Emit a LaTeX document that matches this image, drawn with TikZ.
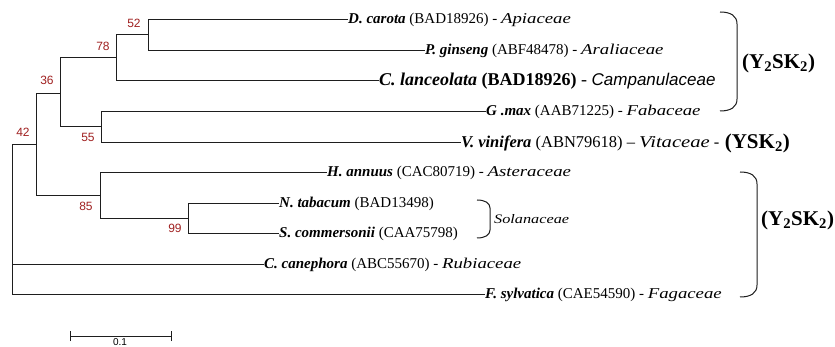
\documentclass[tikz,border=0pt]{standalone}
\usepackage{fontspec}
\setmainfont{Liberation Serif}
\newfontfamily\famfont[FakeStretch=1.25]{Liberation Serif}
\newfontfamily\campfont{Liberation Sans}
\newfontfamily\bsfont{Liberation Sans}
\definecolor{bsred}{RGB}{160,32,32}
\definecolor{treeline}{RGB}{30,30,30}
\newcommand{\spname}[1]{\textbf{\textit{#1}}}
\newcommand{\famname}[1]{{\famfont\itshape #1}}
\begin{document}
\begin{tikzpicture}[x=1pt,y=-1pt,
  branch/.style={draw=treeline, line width=1pt},
  leaf/.style={anchor=west, inner sep=0pt, xshift=1pt, font=\fontsize{15}{15}\selectfont},
  bs/.style={text=bsred, inner sep=0pt, font=\bsfont\fontsize{12}{12}\selectfont},
  group/.style={inner sep=0pt, anchor=west, font=\bfseries\fontsize{21}{21}\selectfont},
  brace/.style={draw=treeline, line width=1pt}]
\useasboundingbox (0,0) rectangle (835,347);
\fill[white] (0,0) rectangle (835,347);
\clip (0,0) rectangle (835,347);

% internal nodes of the tree (x = depth, y = middle of the clade)
\coordinate (root) at (12,220);
\coordinate (n42) at (36,145);
\coordinate (n36) at (60,94);
\coordinate (n78) at (116,58);
\coordinate (n52) at (148,35);
\coordinate (n55) at (101,127);
\coordinate (n85) at (100,196);
\coordinate (n99) at (188,219);

% taxa
\node[leaf] (carota) at (347,20) {\spname{D. carota} (BAD18926) - \famname{Apiaceae}};
\node[leaf] (ginseng) at (424,51) {\spname{P. ginseng} (ABF48478) - \famname{Araliaceae}};
\node[leaf, font=\fontsize{18}{18}\selectfont] (lanceolata) at (378,81)
  {\spname{C. lanceolata} \textbf{(BAD18926)} - {\campfont\itshape\fontsize{17}{17}\selectfont Campanulaceae}};
\node[leaf] (gmax) at (485,112) {\spname{G .max} (AAB71225) - \famname{Fabaceae}};
\node[leaf, font=\fontsize{16.5}{16.5}\selectfont] (vinifera) at (460,143)
  {\spname{V. vinifera} (ABN79618) -- \famname{Vitaceae} -};
\node[leaf] (annuus) at (326,173) {\spname{H. annuus} (CAC80719) - \famname{Asteraceae}};
\node[leaf] (tabacum) at (278,204) {\spname{N. tabacum} (BAD13498)};
\node[leaf] (commersonii) at (278,234) {\spname{S. commersonii} (CAA75798)};
\node[leaf] (canephora) at (263,265) {\spname{C. canephora} (ABC55670) - \famname{Rubiaceae}};
\node[leaf] (sylvatica) at (484,295) {\spname{F. sylvatica} (CAE54590) - \famname{Fagaceae}};

% branches
\draw[branch] (root) |- (n42);
\draw[branch] (root) |- (canephora.west);
\draw[branch] (root) |- (sylvatica.west);
\draw[branch] (n42) |- (n36);
\draw[branch] (n42) |- (n85);
\draw[branch] (n36) |- (n78);
\draw[branch] (n36) |- (n55);
\draw[branch] (n78) |- (n52);
\draw[branch] (n78) |- (lanceolata.west);
\draw[branch] (n52) |- (carota.west);
\draw[branch] (n52) |- (ginseng.west);
\draw[branch] (n55) |- (gmax.west);
\draw[branch] (n55) |- (vinifera.west);
\draw[branch] (n85) |- (annuus.west);
\draw[branch] (n85) |- (n99);
\draw[branch] (n99) |- (tabacum.west);
\draw[branch] (n99) |- (commersonii.west);

% bootstrap values
\node[bs] (b42) at (23,132) {42};
\node[bs] (b36) at (47,80) {36};
\node[bs] (b78) at (103,46) {78};
\node[bs] (b52) at (134,23) {52};
\node[bs] (b55) at (88,137) {55};
\node[bs] (b85) at (86,206) {85};
\node[bs] (b99) at (175,228) {99};

% group labels
\node[group, anchor=west, xshift=5pt] (ysk) at (vinifera.east) {(YSK\textsubscript{2})};
\node[group] (g1) at (742,63) {(Y\textsubscript{2}SK\textsubscript{2})};
\node[group] (g2) at (761,220) {(Y\textsubscript{2}SK\textsubscript{2})};
\node[anchor=west, inner sep=0pt, font=\fontsize{13}{13}\selectfont] (sol) at (494,219) {\famname{Solanaceae}};

% brackets
\draw[brace] (720,12) .. controls (731,12) and (737,16) .. (737,24) -- (737,99)
  .. controls (737,107) and (731,111) .. (720,111);
\draw[brace] (740,172) .. controls (751,172) and (757,176) .. (757,184) -- (757,285)
  .. controls (757,293) and (751,297) .. (740,297);
\draw[brace] (477,200) .. controls (485,200) and (490,203) .. (490,208) -- (490,230)
  .. controls (490,235) and (485,238) .. (477,238);

% scale bar
\coordinate (sbl) at (70,336);
\coordinate (sbr) at (171,336);
\draw[branch] (sbl) -- (sbr);
\draw[branch] ([yshift=-5pt]sbl) -- ([yshift=5pt]sbl);
\draw[branch] ([yshift=-5pt]sbr) -- ([yshift=5pt]sbr);
\node[inner sep=0pt, anchor=north, font=\bsfont\fontsize{10}{10}\selectfont] (sblabel) at (120,338) {0.1};
\end{tikzpicture}
\end{document}
